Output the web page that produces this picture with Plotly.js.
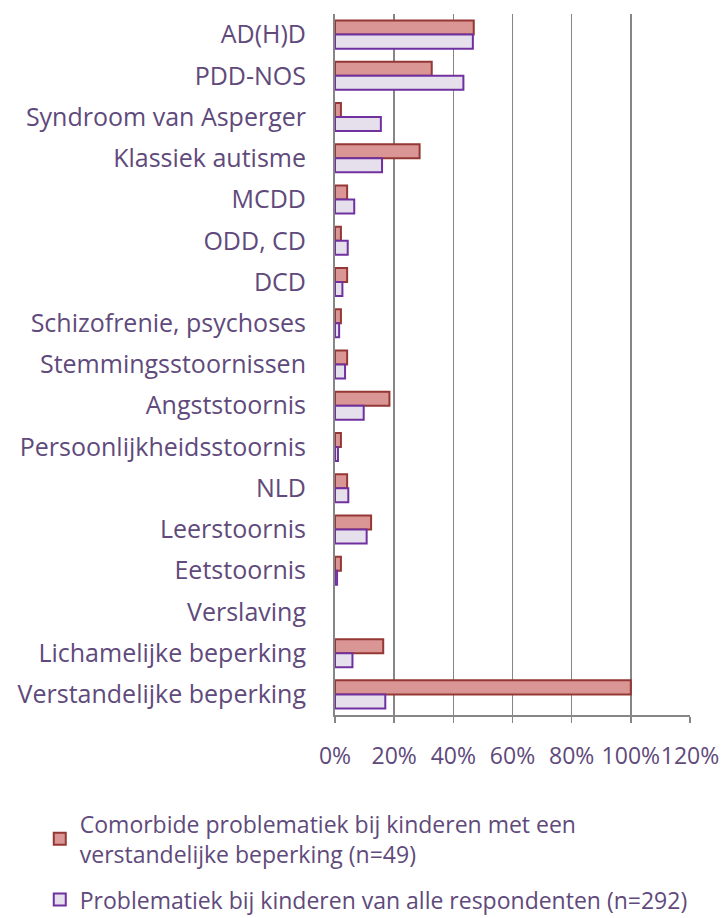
<!DOCTYPE html>
<html><head><meta charset="utf-8">
<script src="https://cdn.plot.ly/plotly-3.0.1.min.js"></script>
<style>html,body{margin:0;padding:0;background:#fff}#chart{width:723px;height:918px}</style>
</head><body><div id="chart"></div>
<script>
var categories = ["AD(H)D","PDD-NOS","Syndroom van Asperger","Klassiek autisme","MCDD","ODD, CD","DCD","Schizofrenie, psychoses","Stemmingsstoornissen","Angststoornis","Persoonlijkheidsstoornis","NLD","Leerstoornis","Eetstoornis","Verslaving","Lichamelijke beperking","Verstandelijke beperking"];
var comorbide = [0.469,0.327,0.020,0.286,0.041,0.020,0.041,0.020,0.041,0.184,0.020,0.041,0.122,0.020,0,0.163,1.00];
var alleRespondenten = [0.466,0.434,0.155,0.159,0.065,0.043,0.025,0.014,0.034,0.097,0.010,0.045,0.107,0.007,0,0.059,0.170];
var xTicks = [0,0.2,0.4,0.6,0.8,1.0,1.2];
var xTickLabels = ["0%","20%","40%","60%","80%","100%","120%"];
var name1 = "Comorbide problematiek bij kinderen met een<br>verstandelijke beperking (n=49)";
var name2 = "Problematiek bij kinderen van alle respondenten (n=292)";

var textColor = "#604a7b";
var font = "Open Sans, sans-serif";

function borderWidths(vals){ return vals.map(function(v){ return v > 0 ? 2 : 0; }); }

var traces = [
  {type:"bar", orientation:"h", y:categories, x:comorbide, name:name1, legendgroup:"a",
   marker:{color:"#d99694", line:{color:"#953735", width:borderWidths(comorbide)}}},
  {type:"bar", orientation:"h", y:categories, x:alleRespondenten, name:name2, legendgroup:"b",
   marker:{color:"#e6e0ec", line:{color:"#7030a0", width:borderWidths(alleRespondenten)}}}
];
var layout = {
  width:723, height:918,
  margin:{l:335, r:33, t:14, b:203, autoexpand:false},
  barmode:"group", bargap:0.32, bargroupgap:0,
  paper_bgcolor:"#fff", plot_bgcolor:"#fff",
  font:{family:font, size:24, color:textColor},
  xaxis:{range:[0,1.2], tickvals:xTicks, ticktext:xTickLabels, showgrid:true, automargin:false,
         gridcolor:"#868686", gridwidth:1.5, showline:true, linecolor:"#868686", linewidth:1.5,
         ticks:"outside", ticklen:6, tickcolor:"#868686", tickwidth:1.5, tickangle:0,
         ticklabelstandoff:14, zeroline:false, fixedrange:true,
         tickfont:{family:font, size:23, color:textColor}},
  yaxis:{type:"category", autorange:"reversed", showline:true, linecolor:"#868686", linewidth:2,
         ticks:"", ticklabelstandoff:22, showgrid:false, fixedrange:true, automargin:false,
         tickfont:{family:font, size:25, color:textColor}},
  showlegend:true,
  legend:{xref:"container", yref:"container", x:0.055, y:0.126, xanchor:"left", yanchor:"top",
          orientation:"v", traceorder:"grouped", tracegroupgap:13, itemwidth:30,
          font:{family:font, size:23, color:textColor}, bgcolor:"rgba(0,0,0,0)"}
};
Plotly.newPlot("chart", traces, layout, {displayModeBar:false, staticPlot:true});
</script></body></html>
